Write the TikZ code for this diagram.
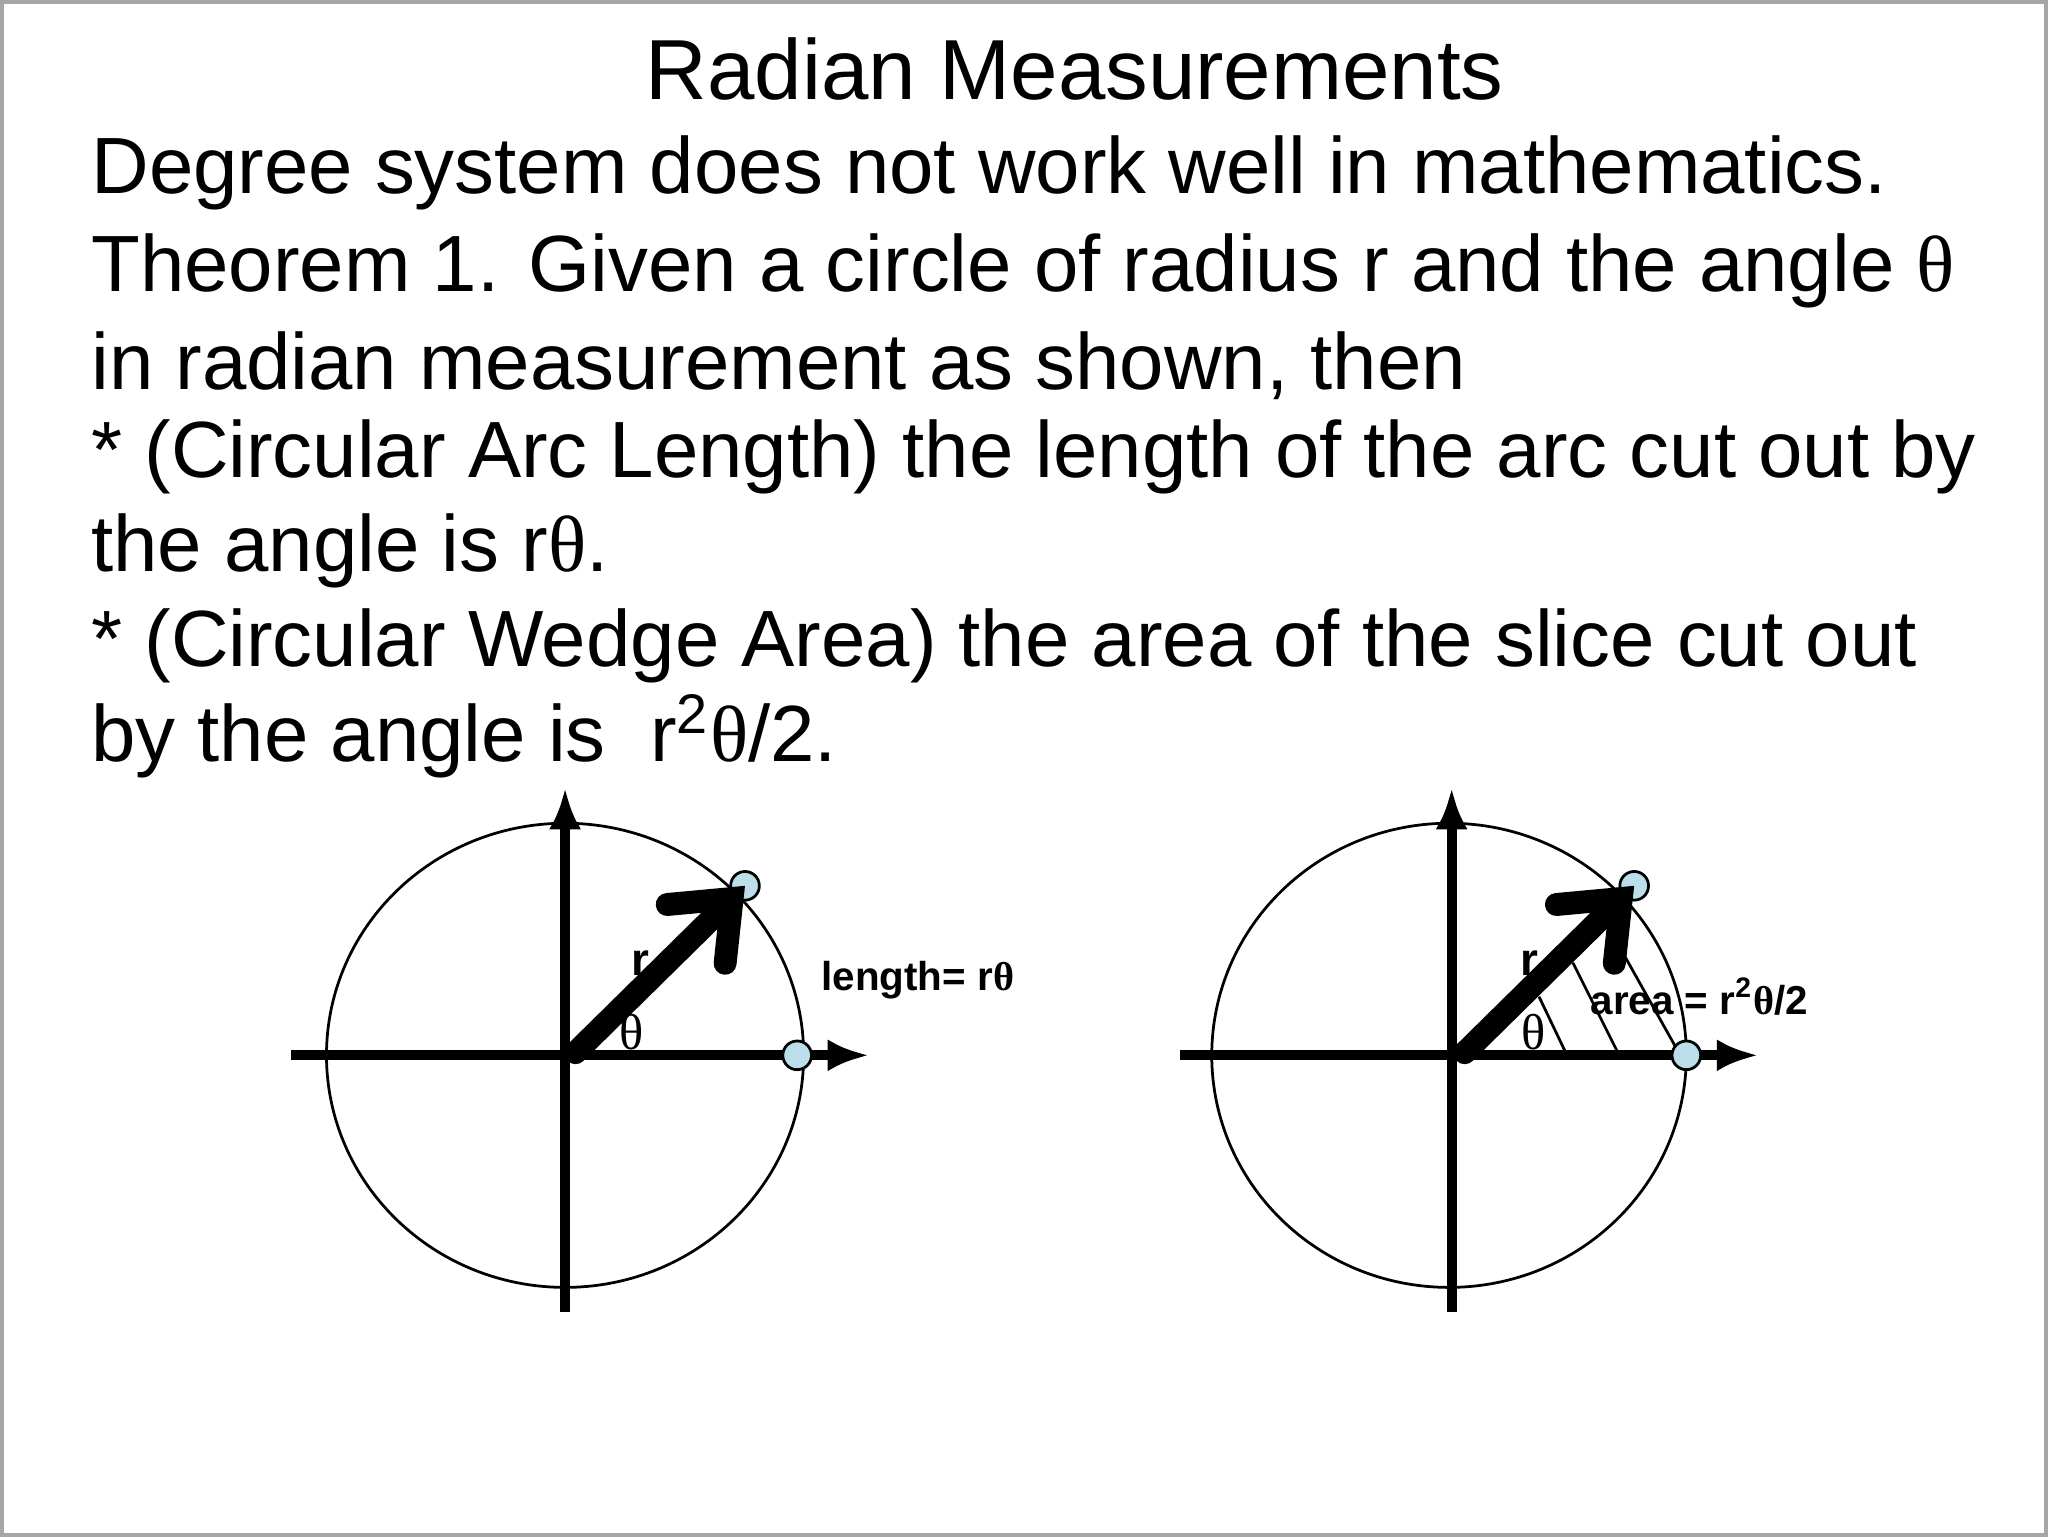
\documentclass[tikz,border=0pt]{standalone}
\usepackage{fontspec}
\usetikzlibrary{arrows.meta}
\setmainfont{Liberation Sans}
\newfontfamily\serifth{Liberation Serif}
\newcommand{\thet}{{\serifth θ}}
\begin{document}
\begin{tikzpicture}[x=0.01cm,y=-0.01cm,
  body/.style={anchor=base west,inner sep=0,font=\fontsize{17.4pt}{20pt}\selectfont},
  lbl/.style={inner sep=0,font=\fontsize{8.8pt}{10pt}\selectfont\bfseries},
  axis/.style={line width=2.2pt,-{Latex[length=9pt,width=7pt]}},
  rad/.style={line width=5pt,line cap=round,-{Straight Barb[length=11pt,width=18pt,line cap=round]}},
  dot/.style={circle,draw,fill=cyan!25!white!85!gray,minimum size=0.22cm,inner sep=0,line width=0.6pt}]
\draw[gray!70,line width=0.8pt,fill=white] (0,0) rectangle (1568,1176);
\useasboundingbox (0,0) rectangle (1568,1176);
\node[anchor=base,inner sep=0,font=\fontsize{18.6pt}{22pt}\selectfont] (title) at (823,75) {Radian Measurements};
\node[body] (l1) at (68,147) {Degree system does not work well in mathematics.};
\node[body] (l2) at (68,222) {Theorem 1. Given a circle of radius r and the angle \thet};
\node[body] (l3) at (68,297) {in radian measurement as shown, then};
\node[body] (l4) at (68,365) {* (Circular Arc Length) the length of the arc cut out by};
\node[body] (l5) at (68,437) {the angle is r\thet.};
\node[body] (l6) at (68,510) {* (Circular Wedge Area) the area of the slice cut out};
\node[body] (l7) at (68,583) {by the angle is~ r\textsuperscript{2}\thet/2.};
% left diagram
\coordinate (o) at (440,806);
\draw[line width=0.6pt] (432,808) ellipse [x radius=183,y radius=178];
\coordinate (xs) at (222,808); \coordinate (xe) at (665,808);
\coordinate (ys) at (432,1005); \coordinate (ye) at (432,603);
\draw[axis] (xs) -- (xe);
\draw[axis] (ys) -- (ye);
\node[dot] (p1) at (570,678) {};
\node[dot] (p2) at (610,808) {};
\draw[rad] (o) -- (p1.center);
\node[lbl,font=\fontsize{10pt}{10pt}\selectfont\bfseries] (r1) at (490,737) {r};
\node[inner sep=0,font=\fontsize{11pt}{12pt}\serifth] (t1) at (483,790) {θ};
\node[lbl,anchor=west] (len) at (628,750) {length= r{\serifth\bfseries θ}};
% right diagram
\coordinate (o2) at (1122,806);
\draw[line width=0.6pt] (1110,808) ellipse [x radius=182,y radius=178];
\coordinate (xs2) at (904,808); \coordinate (xe2) at (1347,808);
\coordinate (ys2) at (1112,1005); \coordinate (ye2) at (1112,603);
\coordinate (h1a) at (1200,807); \coordinate (h1b) at (1179,763);
\coordinate (h2a) at (1240,807); \coordinate (h2b) at (1205,737);
\coordinate (h3a) at (1284,802); \coordinate (h3b) at (1233,711);
\draw[line width=0.6pt] (h1a) -- (h1b) (h2a) -- (h2b) (h3a) -- (h3b);
\draw[axis] (xs2) -- (xe2);
\draw[axis] (ys2) -- (ye2);
\node[dot] (q1) at (1252,678) {};
\node[dot] (q2) at (1292,808) {};
\draw[rad] (o2) -- (q1.center);
\node[lbl,font=\fontsize{10pt}{10pt}\selectfont\bfseries] (r2) at (1172,737) {r};
\node[inner sep=0,font=\fontsize{11pt}{12pt}\serifth] (t2) at (1175,790) {θ};
\node[lbl,anchor=west] (area) at (1218,763) {area = r\textsuperscript{2}{\serifth\bfseries θ}/2};
\end{tikzpicture}
\end{document}
